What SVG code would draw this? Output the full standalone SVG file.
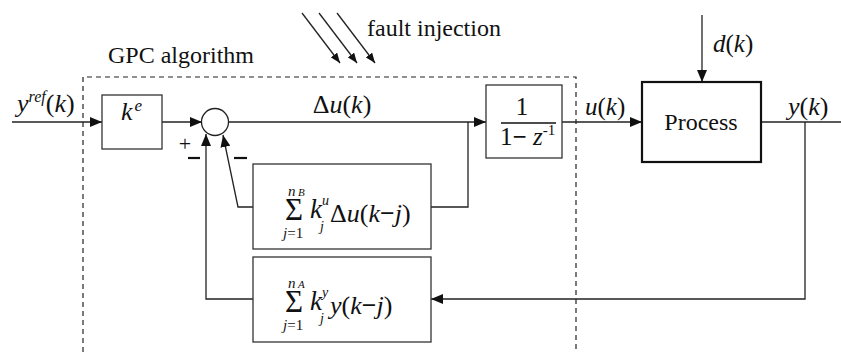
<svg xmlns="http://www.w3.org/2000/svg" width="841" height="352" viewBox="0 0 841 352" font-family="Liberation Serif">
<style>
text, tspan { font-family: 'Liberation Serif'; }
</style>
<defs>
<marker id="arr" viewBox="0 0 12 10" refX="12" refY="5" markerWidth="12" markerHeight="10" orient="auto" markerUnits="userSpaceOnUse">
<path d="M0,0 L12,5 L0,10 z" fill="#111"/>
</marker>
<marker id="arrs" viewBox="0 0 10 8" refX="10" refY="4" markerWidth="10" markerHeight="8" orient="auto" markerUnits="userSpaceOnUse">
<path d="M0,0 L10,4 L0,8 z" fill="#111"/>
</marker>
</defs>
<rect x="0" y="0" width="841" height="352" fill="#fff"/>

<g id="gpc-boundary">
<path d="M83,352 V77 H576 V352" fill="none" stroke="#222" stroke-width="1.2" stroke-dasharray="5,4"/>
<text style="font-family:'Liberation Serif'" x="108" y="63" font-size="24" fill="#111">GPC algorithm</text>
</g>

<g id="fault-injection">
<text style="font-family:'Liberation Serif'" x="367" y="36" font-size="24" fill="#111">fault injection</text>
</g>

<g id="connectors" fill="none" stroke="#222" stroke-width="1.3">
<path d="M12,122 H102" marker-end="url(#arr)"/>
<path d="M162,122 H202" marker-end="url(#arr)"/>
<path d="M228.5,122 H486" marker-end="url(#arr)"/>
<path d="M431,207 H468 V122"/>
<path d="M253,207 H238 L223,135" marker-end="url(#arr)"/>
<path d="M253,299 H206 V134" marker-end="url(#arr)"/>
<path d="M562,122 H642" marker-end="url(#arr)"/>
<path d="M761,122 H841"/>
<path d="M805,122 V299 H431" marker-end="url(#arr)"/>
<path d="M702,15 V82" marker-end="url(#arr)"/>
<path d="M302,13 L340,63" marker-end="url(#arrs)"/>
<path d="M319,13 L357,63" marker-end="url(#arrs)"/>
<path d="M337,13 L375,63" marker-end="url(#arrs)"/>
</g>

<g id="labels" fill="#111">
<text style="font-family:'Liberation Serif'" x="17" y="112" font-size="26"><tspan font-style="italic">y</tspan><tspan font-style="italic" font-size="16" dy="-10">ref</tspan><tspan dy="10">(</tspan><tspan font-style="italic">k</tspan>)</text>
<text style="font-family:'Liberation Serif'" x="342" y="113" font-size="26" text-anchor="middle">Δ<tspan font-style="italic">u</tspan>(<tspan font-style="italic">k</tspan>)</text>
<text style="font-family:'Liberation Serif'" x="585" y="115" font-size="25"><tspan font-style="italic">u</tspan>(<tspan font-style="italic">k</tspan>)</text>
<text style="font-family:'Liberation Serif'" x="788" y="115" font-size="26"><tspan font-style="italic">y</tspan>(<tspan font-style="italic">k</tspan>)</text>
<text style="font-family:'Liberation Serif'" x="713" y="52" font-size="25"><tspan font-style="italic">d</tspan>(<tspan font-style="italic">k</tspan>)</text>
</g>

<g id="gain-ke" fill="#111">
<rect x="102" y="95" width="60" height="54" fill="#fff" stroke="#333" stroke-width="1.3"/>
<text style="font-family:'Liberation Serif'" x="121" y="120" font-size="26" font-style="italic">k<tspan font-size="17" dy="-9" dx="2">e</tspan></text>
</g>

<g id="summer" fill="#111">
<circle cx="215" cy="122" r="13.5" fill="#fff" stroke="#222" stroke-width="1.3"/>
<text style="font-family:'Liberation Serif'" x="185" y="151" font-size="22" text-anchor="middle">+</text>
<line x1="188" y1="158" x2="200" y2="158" stroke="#111" stroke-width="2.2"/>
<line x1="234" y1="158" x2="247" y2="158" stroke="#111" stroke-width="2.2"/>
</g>

<g id="integrator" fill="#111">
<rect x="486" y="85" width="76" height="73" fill="#fff" stroke="#333" stroke-width="1.3"/>
<text style="font-family:'Liberation Serif'" x="522" y="115" font-size="25" text-anchor="middle">1</text>
<line x1="501" y1="123" x2="556" y2="123" stroke="#111" stroke-width="1.3"/>
<text style="font-family:'Liberation Serif'" x="500" y="145" font-size="25">1<tspan font-weight="bold">−</tspan> <tspan font-style="italic">z</tspan><tspan font-size="15" dy="-10">-1</tspan></text>
</g>

<g id="process" fill="#111">
<rect x="642" y="82" width="119" height="80" fill="#fff" stroke="#111" stroke-width="2.2"/>
<text style="font-family:'Liberation Serif'" x="701" y="130" font-size="24" text-anchor="middle">Process</text>
</g>

<g id="sum-du" fill="#111">
<rect x="253" y="164" width="178" height="85" fill="#fff" stroke="#333" stroke-width="1.3"/>
<text style="font-family:'Liberation Serif'" font-size="26"><tspan x="285" y="220" font-size="31">Σ</tspan><tspan x="288" y="196" font-size="15" font-style="italic">n</tspan><tspan x="298" y="196" font-size="11" font-style="italic">B</tspan><tspan x="283" y="238" font-size="15" font-style="italic">j</tspan><tspan font-size="15">=1</tspan><tspan x="310" y="218" font-size="27" font-style="italic">k</tspan><tspan x="322" y="205" font-size="14" font-style="italic">u</tspan><tspan x="320" y="231" font-size="14" font-style="italic">j</tspan><tspan x="330" y="222">Δ</tspan><tspan font-style="italic">u</tspan>(<tspan font-style="italic">k</tspan><tspan font-weight="bold">−</tspan><tspan font-style="italic">j</tspan>)</text>
</g>

<g id="sum-y" fill="#111">
<rect x="253" y="257" width="178" height="85" fill="#fff" stroke="#333" stroke-width="1.3"/>
<text style="font-family:'Liberation Serif'" font-size="26"><tspan x="285" y="312" font-size="31">Σ</tspan><tspan x="288" y="288" font-size="15" font-style="italic">n</tspan><tspan x="298" y="288" font-size="11" font-style="italic">A</tspan><tspan x="283" y="330" font-size="15" font-style="italic">j</tspan><tspan font-size="15">=1</tspan><tspan x="310" y="310" font-size="27" font-style="italic">k</tspan><tspan x="322" y="297" font-size="14" font-style="italic">y</tspan><tspan x="320" y="323" font-size="14" font-style="italic">j</tspan><tspan x="330" y="314" font-style="italic">y</tspan>(<tspan font-style="italic">k</tspan><tspan font-weight="bold">−</tspan><tspan font-style="italic">j</tspan>)</text>
</g>
</svg>
